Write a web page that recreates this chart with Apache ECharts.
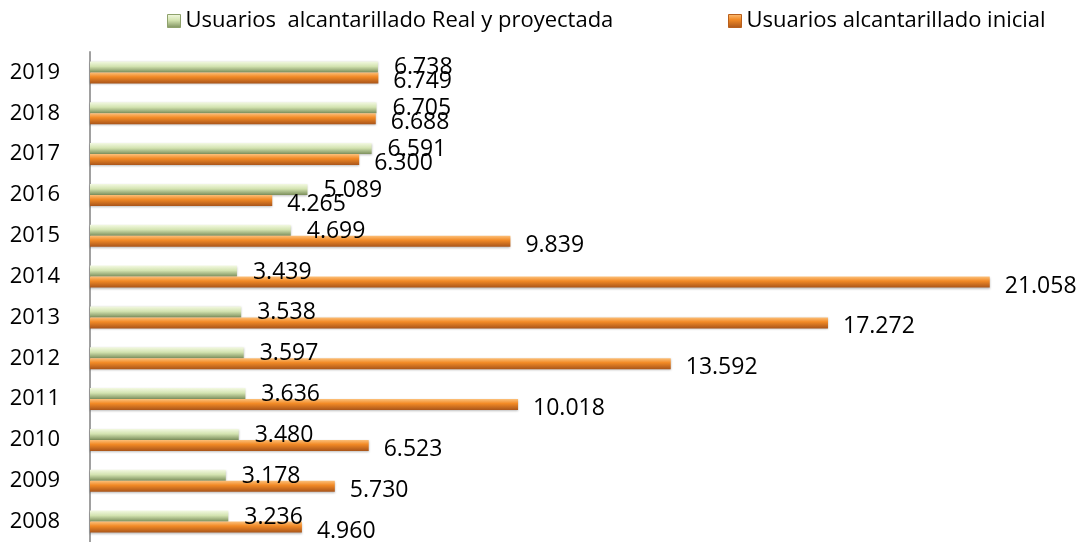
<!DOCTYPE html>
<html>
<head>
<meta charset="utf-8">
<script src="https://cdn.jsdelivr.net/npm/echarts@6/dist/echarts.min.js"></script>
<style>
  html, body { margin: 0; padding: 0; background: #fff; }
  #chart { width: 1086px; height: 542px; }
</style>
</head>
<body>
<div id="chart"></div>
<script>
var years = ['2008', '2009', '2010', '2011', '2012', '2013', '2014', '2015', '2016', '2017', '2018', '2019'];
var realProyectada = [3236, 3178, 3480, 3636, 3597, 3538, 3439, 4699, 5089, 6591, 6705, 6738];
var inicial = [4960, 5730, 6523, 10018, 13592, 17272, 21058, 9839, 4265, 6300, 6688, 6749];
var seriesNames = ['Usuarios  alcantarillado Real y proyectada', 'Usuarios alcantarillado inicial'];

var font = '"Open Sans", "Noto Sans", sans-serif';

function fmt(v) {
    return String(Math.round(v)).replace(/\B(?=(\d{3})+(?!\d))/g, '.');
}

function greenFill() {
    return new echarts.graphic.LinearGradient(0, 0, 0, 1, [
        { offset: 0, color: '#f3f9e2' },
        { offset: 0.45, color: '#d3e3b0' },
        { offset: 1, color: '#7c8f5c' }
    ]);
}
function orangeFill() {
    return new echarts.graphic.LinearGradient(0, 0, 0, 1, [
        { offset: 0, color: '#fcc07a' },
        { offset: 0.4, color: '#f28a26' },
        { offset: 1, color: '#a9551a' }
    ]);
}

function legendAt(left, name, fill, border) {
    return {
        top: 5,
        left: left,
        itemWidth: 13,
        itemHeight: 13,
        textStyle: { fontSize: 22, color: '#000', fontFamily: font },
        data: [{ name: name, icon: 'rect', itemStyle: { color: fill, borderColor: border, borderWidth: 1, shadowBlur: 0 } }]
    };
}

var chart = echarts.init(document.getElementById('chart'));
chart.setOption({
    animation: false,
    textStyle: { fontFamily: font },
    legend: [
        legendAt(162, seriesNames[0], greenFill(), '#8fa26c'),
        legendAt(723, seriesNames[1], orangeFill(), '#b95f1c')
    ],
    grid: { left: 90, right: 56, top: 52, bottom: -4 },
    xAxis: {
        type: 'value',
        min: 0,
        max: 22000,
        show: false
    },
    yAxis: {
        type: 'category',
        data: years,
        axisTick: { show: false },
        axisLine: { lineStyle: { color: '#a0a0a0', width: 2 } },
        axisLabel: { color: '#000', fontSize: 22, margin: 30, fontFamily: font }
    },
    series: [
        {
            name: seriesNames[0],
            type: 'bar',
            data: realProyectada,
            barWidth: 11,
            barGap: '0%',
            itemStyle: { color: greenFill(), shadowColor: 'rgba(0,0,0,0.25)', shadowBlur: 2, shadowOffsetY: 1 },
            label: {
                show: true, position: 'right', distance: 16, offset: [0, 1],
                color: '#000', fontSize: 23, fontFamily: font,
                formatter: function (p) { return fmt(p.value); }
            }
        },
        {
            name: seriesNames[1],
            type: 'bar',
            data: inicial,
            barWidth: 11,
            barGap: '0%',
            itemStyle: { color: orangeFill(), shadowColor: 'rgba(0,0,0,0.25)', shadowBlur: 2, shadowOffsetY: 1 },
            label: {
                show: true, position: 'right', distance: 15, offset: [0, 4],
                color: '#000', fontSize: 23, fontFamily: font,
                formatter: function (p) { return fmt(p.value); }
            }
        }
    ]
});
window.addEventListener('resize', function () { chart.resize(); });
</script>
</body>
</html>
